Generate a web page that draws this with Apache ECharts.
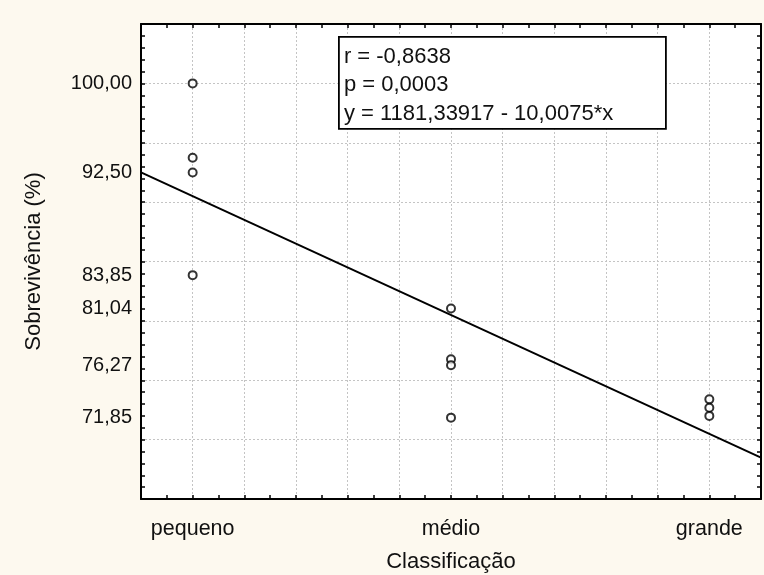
<!DOCTYPE html>
<html>
<head>
<meta charset="utf-8">
<script src="https://cdn.jsdelivr.net/npm/echarts@6/dist/echarts.min.js"></script>
<style>
html,body{margin:0;padding:0;background:#fdf9ef;}
#c{width:764px;height:575px;}
</style>
</head>
<body>
<div id="c"></div>
<script>
// Categories (x positions 1,2,3)
const categories = ['pequeno', 'médio', 'grande'];
// Observed points
const pointX = [1, 1, 1, 1, 2, 2, 2, 2, 3, 3, 3];
const pointY = [100.00, 93.73, 92.50, 83.85, 81.04, 76.76, 76.27, 71.85, 73.39, 72.68, 72.00];
// Fitted regression line endpoints (at the plot's x limits)
const lineX = [0.8, 3.2];
const lineY = [92.51, 68.49];
// Y tick labels
const yTickLabels = [71.85, 76.27, 81.04, 83.85, 92.50, 100.00];
const xTickValues = [1, 2, 3];
// Stats text
const statsLines = ['r = -0,8638', 'p = 0,0003', 'y = 1181,33917 - 10,0075*x'];

const FONT = '"Liberation Sans", Arial, Helvetica, sans-serif';
const chart = echarts.init(document.getElementById('c'));

const baseX = {
  type: 'value', min: 0.8, max: 3.2, interval: 0.2,
  axisLine: {show: true, onZero: false, lineStyle: {color: '#000', width: 2}},
  axisTick: {show: true, inside: true, length: 4, lineStyle: {color: '#000', width: 1.5}},
  minorTick: {show: true, splitNumber: 2, length: 4, lineStyle: {color: '#000', width: 1.5}},
  splitLine: {show: false}
};
const baseY = {
  type: 'value', min: 65, max: 105, interval: 5,
  axisLine: {show: true, onZero: false, lineStyle: {color: '#000', width: 2}},
  axisTick: {show: true, inside: true, length: 4, lineStyle: {color: '#000', width: 1.5}},
  minorTick: {show: true, splitNumber: 5, length: 4, lineStyle: {color: '#000', width: 1.5}},
  splitLine: {show: false}
};

const option = {
  backgroundColor: '#fdf9ef',
  animation: false,
  grid: {left: 141, top: 24, width: 620, height: 475, show: true, backgroundColor: '#ffffff', borderWidth: 0,
    containLabel: false, outerBoundsMode: 'none'},
  xAxis: [
    Object.assign({}, baseX, {
      position: 'bottom',
      name: 'Classificação', nameLocation: 'middle', nameGap: 52,
      nameTextStyle: {fontFamily: FONT, fontSize: 22, color: '#111'},
      axisLabel: {show: true, customValues: xTickValues, margin: 19,
        fontFamily: FONT, fontSize: 21.5, color: '#111',
        formatter: v => categories[Math.round(v) - 1] || ''},
      splitLine: {show: true, lineStyle: {color: '#c4c4c4', type: [2, 2], width: 1}}
    }),
    Object.assign({}, baseX, {position: 'top', axisLabel: {show: false}})
  ],
  yAxis: [
    Object.assign({}, baseY, {
      position: 'left',
      name: 'Sobrevivência (%)', nameLocation: 'middle', nameGap: 96,
      nameTextStyle: {fontFamily: FONT, fontSize: 22, color: '#111'},
      axisLabel: {show: true, customValues: yTickLabels, margin: 9,
        fontFamily: FONT, fontSize: 20, color: '#111',
        formatter: v => v.toFixed(2).replace('.', ',')},
      splitLine: {show: true, lineStyle: {color: '#c4c4c4', type: [2, 2], width: 1}}
    }),
    Object.assign({}, baseY, {position: 'right', axisLabel: {show: false}})
  ],
  series: [
    {
      type: 'line', xAxisIndex: 0, yAxisIndex: 0,
      data: lineX.map((x, i) => [x, lineY[i]]),
      showSymbol: false, symbol: 'none',
      lineStyle: {color: '#000', width: 2}, z: 3
    },
    {
      type: 'scatter', xAxisIndex: 0, yAxisIndex: 0,
      data: pointX.map((x, i) => [x, pointY[i]]),
      symbol: 'circle', symbolSize: 8,
      itemStyle: {color: '#ffffff', borderColor: '#000', borderWidth: 2}, z: 4
    }
  ],
  graphic: [
    {
      type: 'group', left: 338, top: 36, z: 100,
      children: [
        {type: 'rect', z: 100, shape: {x: 0, y: 0, width: 327, height: 92},
          style: {fill: '#fff', stroke: '#000', lineWidth: 1.8}},
        ...statsLines.map((t, i) => ({
          type: 'text', z: 101, x: 5, y: 20 + i * 28.5,
          style: {text: t, fontFamily: FONT, fontSize: 22, fill: '#111', verticalAlign: 'middle', align: 'left'}
        }))
      ]
    }
  ]
};
chart.setOption(option);
</script>
</body>
</html>
